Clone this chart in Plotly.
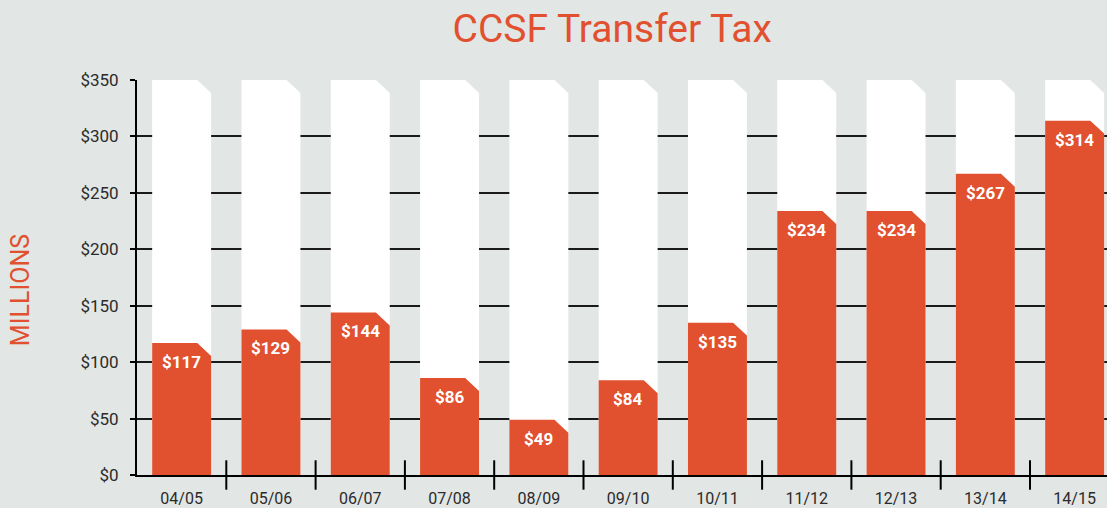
import plotly.graph_objects as go

years = ["04/05", "05/06", "06/07", "07/08", "08/09", "09/10", "10/11", "11/12", "12/13", "13/14", "14/15"]
values = [117, 129, 144, 86, 49, 84, 135, 234, 234, 267, 314]
y_ticks = [0, 50, 100, 150, 200, 250, 300, 350]
y_max = 350

BG = "#E2E6E5"
ORANGE = "#E1502F"
TEXT = "#2b2b2b"
FONT = "Roboto"

hw = 0.33      # half bar width (category units)
dx = 0.155     # chamfer width (category units)
dy = 11.5      # chamfer height (value units)


def polys(vals):
    xs, ys = [], []
    for i, v in enumerate(vals):
        xs += [i - hw, i - hw, i + hw - dx, i + hw, i + hw, i - hw, None]
        ys += [0, v, v, v - dy, 0, 0, None]
    return xs, ys


fig = go.Figure()

wx, wy = polys([y_max] * len(years))
fig.add_trace(go.Scatter(x=wx, y=wy, mode="lines", fill="toself", fillcolor="white",
                         line=dict(width=0, color="white"), hoverinfo="skip", showlegend=False))

ox, oy = polys(values)
fig.add_trace(go.Scatter(x=ox, y=oy, mode="lines", fill="toself", fillcolor=ORANGE,
                         line=dict(width=0, color=ORANGE), hoverinfo="skip", showlegend=False))

# category boundary tick marks crossing the x axis
bounds = [i + 0.5 for i in range(len(years) - 1)]
fig.add_trace(go.Scatter(x=bounds, y=[0] * len(bounds), mode="markers", cliponaxis=False,
                         marker=dict(symbol="line-ns", size=21, line=dict(width=2, color="black")),
                         hoverinfo="skip", showlegend=False))

for i, v in enumerate(values):
    fig.add_annotation(x=i, y=v, yshift=-19, text=f"${v}", showarrow=False,
                       font=dict(family=FONT, size=17, color="white", weight="bold"),
                       xanchor="center", yanchor="middle")

# y axis title
fig.add_annotation(xref="paper", yref="paper", x=-0.1206, y=0.468, text="MILLIONS",
                   textangle=-90, showarrow=False, xanchor="center", yanchor="middle",
                   font=dict(family=FONT, size=25, color=ORANGE))

fig.update_layout(
    width=1107, height=508,
    margin=dict(l=137, r=0, t=80, b=33),
    paper_bgcolor=BG, plot_bgcolor=BG,
    title=dict(text="CCSF Transfer Tax", x=0.553, xanchor="center", y=1 - 28 / 508,
               yanchor="middle", yref="container",
               font=dict(family=FONT, size=39, color=ORANGE)),
    font=dict(family=FONT, color=TEXT),
)

fig.update_xaxes(
    range=[-0.5, -0.5 + 970 / 89.3],
    tickmode="array", tickvals=list(range(len(years))), ticktext=years,
    ticks="", showgrid=False, zeroline=False,
    showline=True, linecolor="black", linewidth=2,
    tickfont=dict(family=FONT, size=16, color=TEXT),
    ticklabelstandoff=8,
)

fig.update_yaxes(
    range=[0, y_max],
    tickmode="array", tickvals=y_ticks, ticktext=[f"${t}" for t in y_ticks],
    ticks="outside", ticklen=5, tickwidth=2, tickcolor="black",
    showgrid=True, gridcolor="#1a1a1a", gridwidth=2, zeroline=False,
    showline=True, linecolor="black", linewidth=2,
    tickfont=dict(family=FONT, size=17, color=TEXT),
    ticklabelstandoff=8,
)

fig.write_html("out.html", config={"displayModeBar": False},
               post_script="document.body.style.margin='0';document.body.style.overflow='hidden';")
